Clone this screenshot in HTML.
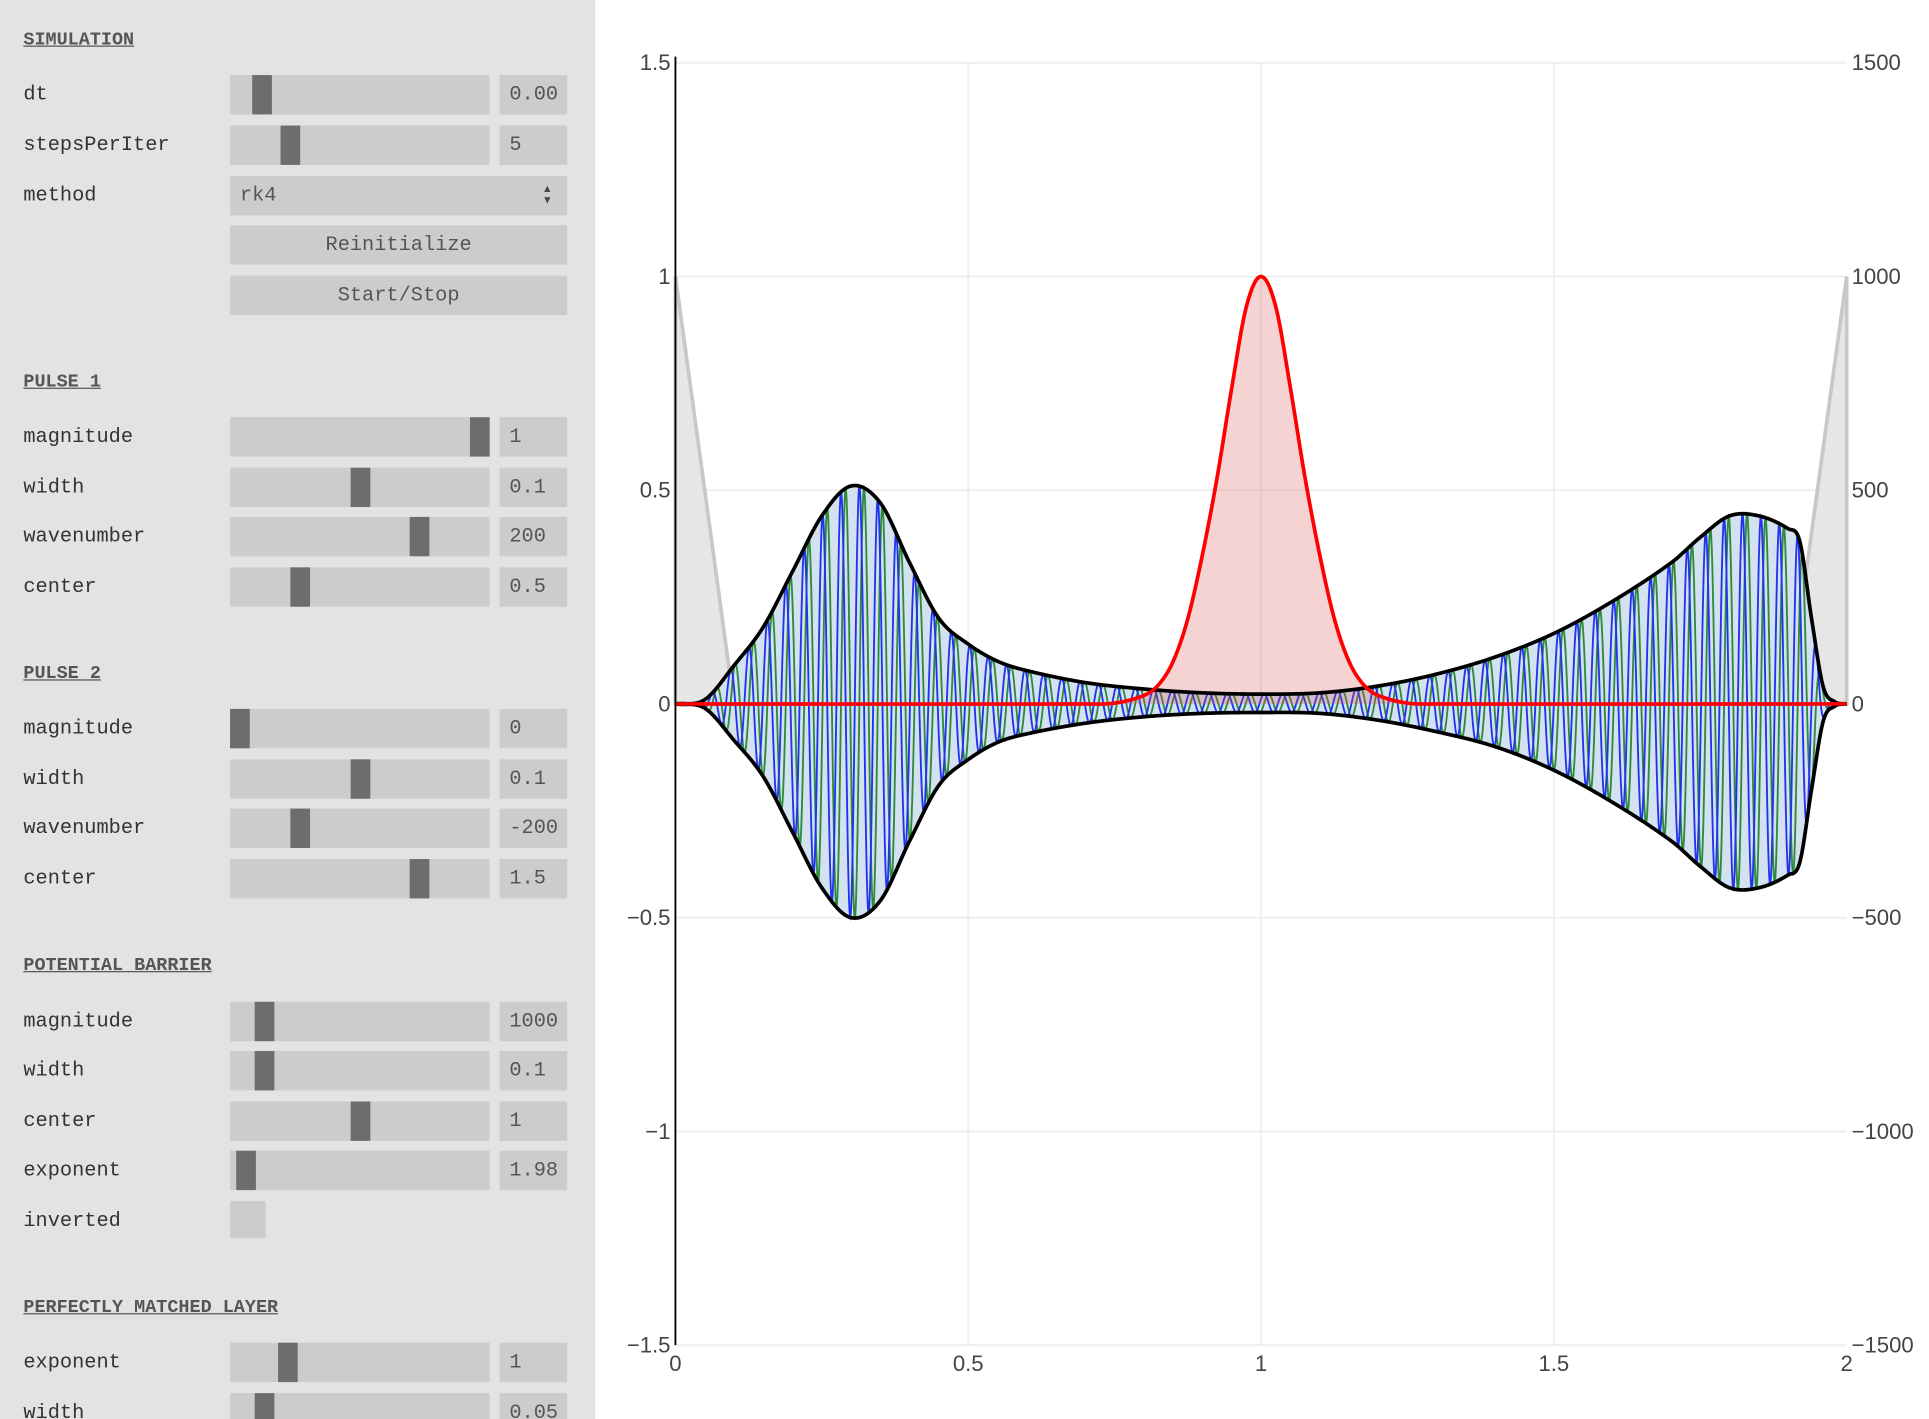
<!DOCTYPE html>
<html><head><meta charset="utf-8"><style>
html,body{margin:0;padding:0;width:1929px;height:1419px;overflow:hidden;background:#fff}
#wrap{position:absolute;left:0;top:0;width:1568px;height:1153px;overflow:hidden;transform:scale(1.2303,1.2307);transform-origin:0 0}
#panel{position:absolute;left:0;top:0;width:484px;height:1153px;overflow:hidden;background:#e3e3e3;font-family:"Liberation Mono",monospace;font-size:16.5px;color:#333}
.h{position:absolute;left:19px;font-weight:bold;text-decoration:underline;color:#555;font-size:15px}
.lbl{position:absolute;left:19px}
.trk{position:absolute;left:187px;width:211px;height:32px;background:#ccc}
.hd{position:absolute;top:0;width:16px;height:32px;background:#6d6d6d}
.val{position:absolute;left:406px;width:55px;height:32px;background:#ccc;color:#555;line-height:32px;text-indent:8px}
.btn{position:absolute;left:187px;width:274px;height:32px;background:#ccc;color:#555;line-height:32px;text-align:center}
svg text{font-family:"Liberation Sans",sans-serif;font-size:18px;fill:#444}
</style></head><body><div id="wrap">
<div id="panel"></div>
<svg id="chart" style="position:absolute;left:484px;top:0" width="1084" height="1153" viewBox="484 0 1084 1153"></svg>
</div>
<script>
// ---------- chart data ----------
const xTicks=[0,0.5,1,1.5,2];
const yTicks=[1.5,1,0.5,0,-0.5,-1,-1.5];
const y2Ticks=[1500,1000,500,0,-500,-1000,-1500];
const envX=[0,0.05,0.1,0.15,0.2,0.25,0.3,0.35,0.4,0.45,0.5,0.55,0.6,0.7,0.8,0.9,1.0,1.1,1.2,1.3,1.4,1.5,1.6,1.7,1.75,1.8,1.85,1.9,1.92,1.94,1.96,1.98,2];
const envUp=[0,0.01,0.09,0.18,0.31,0.44,0.51,0.47,0.33,0.2,0.14,0.1,0.078,0.05,0.035,0.026,0.023,0.026,0.042,0.07,0.11,0.165,0.24,0.33,0.39,0.44,0.44,0.41,0.38,0.2,0.04,0.005,0];
const envLo=[0,-0.01,-0.085,-0.17,-0.3,-0.43,-0.5,-0.46,-0.32,-0.19,-0.13,-0.09,-0.07,-0.045,-0.03,-0.022,-0.02,-0.022,-0.038,-0.065,-0.1,-0.155,-0.23,-0.32,-0.38,-0.43,-0.43,-0.4,-0.37,-0.2,-0.04,-0.005,0];
const waveNumber=200;
const potX=[0,0.7,0.75,0.8,0.825,0.85,0.875,0.9,0.925,0.95,0.975,1,1.025,1.05,1.075,1.1,1.125,1.15,1.175,1.2,1.25,1.3,2];
const potVals=[0,0,2,20,45,100,200,350,530,740,930,1000,930,740,530,350,200,100,45,20,2,0,0];
const pmlX=[0,0.1,1.9,2];
const pmlVals=[1000,0,0,1000];

const X0=549,X1=1501,YT=51,YB=1093;
const sx=v=>X0+(v-0)/(2-0)*(X1-X0);
const sy=v=>YB-(v+1.5)/3*(YB-YT);
const sy2=v=>YB-(v+1500)/3000*(YB-YT);
const NS='http://www.w3.org/2000/svg';
const svg=document.getElementById('chart');
function mk(t,a,parent){const e=document.createElementNS(NS,t);for(const k in a)e.setAttribute(k,a[k]);(parent||svg).appendChild(e);return e;}
// Catmull-Rom (non-uniform x) smooth interpolation
function interp(xs,ys,x){
 const n=xs.length;
 for(let i=0;i<n-1;i++){
  if(x>=xs[i]&&x<=xs[i+1]){
   const h=xs[i+1]-xs[i],t=(x-xs[i])/h;
   const m0=i>0?(ys[i+1]-ys[i-1])/(xs[i+1]-xs[i-1])*h:(ys[i+1]-ys[i]);
   const m1=i<n-2?(ys[i+2]-ys[i])/(xs[i+2]-xs[i])*h:(ys[i+1]-ys[i]);
   const t2=t*t,t3=t2*t;
   return (2*t3-3*t2+1)*ys[i]+(t3-2*t2+t)*m0+(-2*t3+3*t2)*ys[i+1]+(t3-t2)*m1;
  }
 }
 return 0;
}
const N=3000;
function curve(xs,ys,syf){let d='';for(let i=0;i<=N;i++){const x=2*i/N;d+=(i?'L':'M')+sx(x).toFixed(2)+','+syf(interp(xs,ys,x)).toFixed(2);}return d;}
// grid
xTicks.forEach(t=>{if(t>0&&t<2){const g=mk('line',{x1:sx(t),x2:sx(t),y1:YT,y2:YB,stroke:'#eee','stroke-width':1.5});}});
yTicks.forEach(t=>{const g=mk('line',{x1:X0,x2:X1,y1:sy(t),y2:sy(t),stroke:'#eee','stroke-width':1.5});});
// pml
function pmlPath(i0,i1){let d='M'+sx(pmlX[i0])+','+sy2(0);for(let i=i0;i<=i1;i++)d+='L'+sx(pmlX[i])+','+sy2(pmlVals[i]);d+='L'+sx(pmlX[i1])+','+sy2(0)+'Z';return d;}
[[0,1],[2,3]].forEach(p=>{const e=mk('path',{d:pmlPath(p[0],p[1]),fill:'#e6e6e6',stroke:'#c8c8c8','stroke-width':3});});
// envelope fill
const upD=curve(envX,envUp,sy);
let dFill=upD;
for(let i=N;i>=0;i--){const x=2*i/N;dFill+='L'+sx(x).toFixed(2)+','+sy(interp(envX,envLo,x)).toFixed(2);}
const ef=mk('path',{d:dFill+'Z',fill:'#d3e1f0'});


// real / imag
function wave(fn){let d='';const M=4000;for(let i=0;i<=M;i++){const x=2*i/M;const u=interp(envX,envUp,x),l=interp(envX,envLo,x);const a=(u-l)/2,c=(u+l)/2;d+=(i?'L':'M')+sx(x).toFixed(2)+','+sy(c+a*fn(waveNumber*x)).toFixed(2);}return d;}
const gi=mk('path',{d:wave(Math.sin),fill:'none',stroke:'#2e8b3a','stroke-width':1.5});


const gr=mk('path',{d:wave(Math.cos),fill:'none',stroke:'#2233ee','stroke-width':1.5});


// potential
const dp=curve(potX,potVals,sy2);
const pf=mk('path',{d:dp+'L'+sx(2)+','+sy2(0)+'L'+sx(0)+','+sy2(0)+'Z',fill:'rgba(220,80,80,0.25)'});


// envelopes
const eu=mk('path',{d:upD,fill:'none',stroke:'#000','stroke-width':3,'stroke-linejoin':'round'});


const el=mk('path',{d:curve(envX,envLo,sy),fill:'none',stroke:'#000','stroke-width':3,'stroke-linejoin':'round'});


const pl=mk('path',{d:dp,fill:'none',stroke:'#ff0000','stroke-width':3});


// axis
const ax=mk('line',{x1:X0,x2:X0,y1:YT-5,y2:YB,stroke:'#000','stroke-width':1.5});


yTicks.forEach(t=>{const e=mk('text',{x:X0-4,y:sy(t)+6,'text-anchor':'end'});e.textContent=t<0?'\u2212'+Math.abs(t):String(t);});
y2Ticks.forEach(t=>{const e=mk('text',{x:X1+4,y:sy2(t)+6,'text-anchor':'start'});e.textContent=t<0?'\u2212'+Math.abs(t):String(t);});
xTicks.forEach(t=>{const e=mk('text',{x:sx(t),y:1114,'text-anchor':'middle'});e.textContent=String(t);});

// ---------- panel ----------
const P=document.getElementById('panel');
function add(cls,style,text,name,inter){const d=document.createElement('div');d.className=cls;d.setAttribute('style',style);if(text!=null)d.textContent=text;P.appendChild(d);return d;}
const heads=[['SIMULATION',24],['PULSE 1',302],['PULSE 2',539],['POTENTIAL BARRIER',776],['PERFECTLY MATCHED LAYER',1054]];
heads.forEach(h=>add('h','top:'+h[1]+'px',h[0],'section-heading','false'));
const sliders=[['dt',61,205,'0.00'],['stepsPerIter',102,228,'5'],
['magnitude',339,382,'1'],['width',380,285,'0.1'],['wavenumber',420,333,'200'],['center',461,236,'0.5'],
['magnitude',576,187,'0'],['width',617,285,'0.1'],['wavenumber',657,236,'-200'],['center',698,333,'1.5'],
['magnitude',814,207,'1000'],['width',854,207,'0.1'],['center',895,285,'1'],['exponent',935,192,'1.98'],
['exponent',1091,226,'1'],['width',1132,207,'0.05']];
sliders.forEach(s=>{
 add('lbl','top:'+(s[1]+6)+'px',s[0],s[0].toLowerCase()+'-label','false');
 const t=add('trk','top:'+s[1]+'px',null,s[0].toLowerCase()+'-slider','true');
 const h=document.createElement('div');h.className='hd';h.style.left=(s[2]-187)+'px';
 
 
 t.appendChild(h);
 add('val','top:'+s[1]+'px',s[3],s[0].toLowerCase()+'-value','true');
});
add('lbl','top:149px','method','method-label','false');
const sel=add('btn','top:143px;text-align:left;text-indent:8px','rk4','method-select','true');
const ar=document.createElement('span');ar.textContent='\u25B4\u25BE';ar.setAttribute('style','position:absolute;right:10px;top:-2px;font-size:13px;line-height:9px;width:10px;text-indent:0;padding-top:8px;color:#444;word-break:break-all');


sel.appendChild(ar);
add('btn','top:183px','Reinitialize','reinitialize-button','true');
add('btn','top:224px','Start/Stop','start-stop-button','true');
add('lbl','top:982px','inverted','inverted-label','false');
add('trk','top:976px;width:29px;height:30px',null,'inverted-checkbox','true');
</script></body></html>
